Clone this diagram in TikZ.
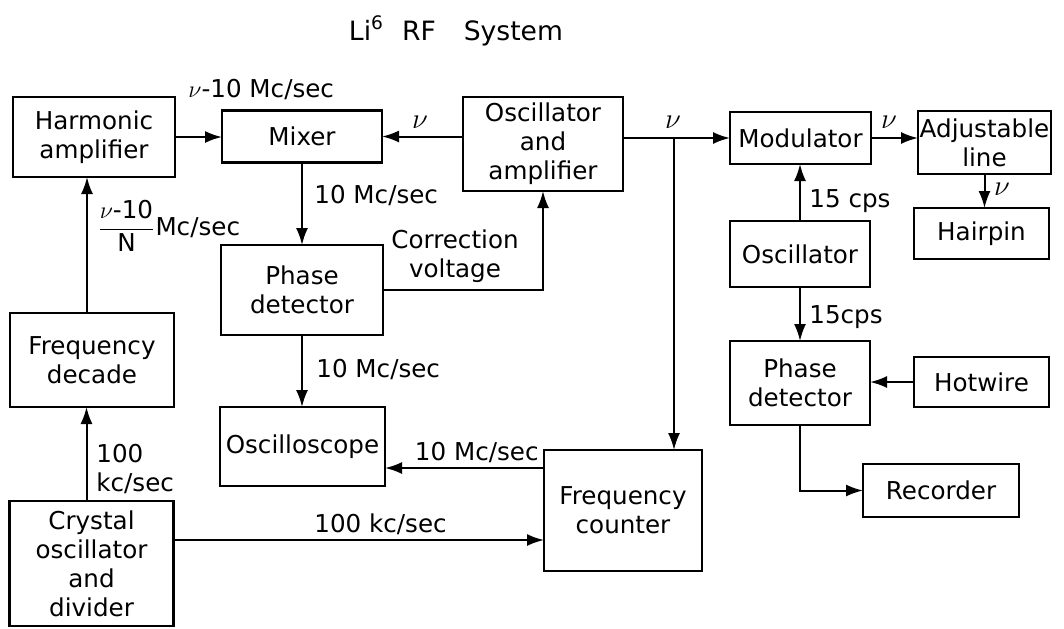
\documentclass[tikz,border=0pt]{standalone}
\usepackage{amsmath}
\usepackage{fontspec}
\setmainfont{DejaVu Sans}
\usetikzlibrary{arrows.meta,positioning,calc}

\begin{document}
\begin{tikzpicture}[x=0.5pt,y=-0.5pt,
    font=\fontsize{12.3}{14.5}\selectfont,
    >={Latex[length=8.5pt,width=6pt]},
    blk/.style={rectangle,draw,line width=1.3pt,align=center,inner xsep=0.5pt,inner ysep=1pt,outer sep=0pt},
    lbl/.style={inner sep=0pt},
    nu/.style={inner sep=0pt,font=\fontsize{14}{14}\selectfont},
    link/.style={->,line width=1pt}]
    \useasboundingbox (0,0) rectangle (1064,628);

    % Title
    \node[lbl,anchor=base,font=\fontsize{13.3}{15}\selectfont] (title) at (456,40) {Li\textsuperscript{6}\hspace{9pt}RF\hspace{14pt}System};

    % Reference chain
    \node[blk,minimum width=81pt,minimum height=40pt] (harm) at (94,137) {Harmonic\\amplifier};
    \node[blk,minimum width=82pt,minimum height=47pt] (decade) at (92,360) {Frequency\\decade};
    \node[blk,minimum width=82pt,minimum height=62.5pt] (crys) at (91.5,563.5) {Crystal\\oscillator\\and\\divider};

    % Mixer and detection
    \node[blk,minimum width=80pt,minimum height=26pt] (mixer) at (302,136.5) {Mixer};
    \node[blk,minimum width=81pt,minimum height=45pt] (phdet1) at (302,290) {Phase\\detector};
    \node[blk,minimum width=82.5pt,minimum height=39.5pt] (scope) at (302.5,446.5) {Oscilloscope};
    \node[blk,minimum width=80pt,minimum height=47pt] (oscamp) at (543,144) {Oscillator\\and\\amplifier};
    \node[blk,minimum width=79pt,minimum height=60.5pt] (counter) at (623,510.5) {Frequency\\counter};

    % Modulation side
    \node[blk,minimum width=70.5pt,minimum height=26pt] (modul) at (800.5,138) {Modulator};
    \node[blk,minimum width=66.5pt,minimum height=31.5pt] (adj) at (984.5,142.5) {Adjustable\\line};
    \node[blk,minimum width=67.5pt,minimum height=25.5pt] (hairpin) at (981.5,233.5) {Hairpin};
    \node[blk,minimum width=70pt,minimum height=33pt] (osc) at (800,254) {Oscillator};
    \node[blk,minimum width=70pt,minimum height=42pt] (phdet2) at (800,383) {Phase\\detector};
    \node[blk,minimum width=67.5pt,minimum height=25pt] (hot) at (981.5,382) {Hotwire};
    \node[blk,minimum width=78pt,minimum height=26.5pt] (rec) at (941,490.5) {Recorder};

    % Arrows
    \draw[link] (harm.east) -- (harm.east -| mixer.west);
    \draw[link] (mixer.east -| oscamp.west) -- (mixer.east);
    \draw[link] (mixer.south) -- (mixer.south |- phdet1.north);
    \draw[link] (phdet1.south) -- (phdet1.south |- scope.north);
    \draw[link] (phdet1.east) -| (oscamp.south);
    \draw[link] ([xshift=-2.5pt]crys.north) -- ([xshift=-2.5pt]crys.north |- decade.south);
    \draw[link] ([xshift=-2.5pt]decade.north) -- ([xshift=-2.5pt]decade.north |- harm.south);
    \draw[link] ([yshift=-19.5pt]crys.north east) -- ([yshift=-19.5pt]crys.north east -| counter.west);
    \draw[link] ([yshift=-9pt]counter.north west) -- ([yshift=-9pt]counter.north west -| scope.east);
    \draw[link] (oscamp.east |- modul.west) -- (modul.west);
    \coordinate (tap) at (674,138);
    \draw[link] (tap) -- (tap |- counter.north);
    \draw[link] (modul.east) -- (modul.east -| adj.west);
    \draw[link] (adj.south) -- (adj.south |- hairpin.north);
    \draw[link] (osc.north) -- (osc.north |- modul.south);
    \draw[link] (osc.south) -- (osc.south |- phdet2.north);
    \draw[link] (hot.west) -- (hot.west -| phdet2.east);
    \draw[link] (phdet2.south) |- (rec.west);

    % Signal labels
    \node[lbl,anchor=base west] (lmix) at (188,97) {$\nu$-10 Mc/sec};
    \node[nu,anchor=base] (lnu1) at (420,128) {$\nu$};
    \node[lbl,anchor=base west] (lten1) at (314,203) {10 Mc/sec};
    \node[lbl,anchor=base west] (lfrac) at (97,235) {$\dfrac{\nu\text{-10}}{\text{N}}$Mc/sec};
    \node[lbl,align=center] (lcorr) at (455,256) {Correction\\voltage};
    \node[lbl,anchor=base west] (lten2) at (316,377) {10 Mc/sec};
    \node[lbl,anchor=base east] (lten3) at (539,460) {10 Mc/sec};
    \node[lbl,anchor=base west] (lkc1) at (314,532) {100 kc/sec};
    \node[lbl,align=left,anchor=west] (lkc2) at (96,469) {100\\kc/sec};
    \node[nu,anchor=base] (lnu2) at (673,128) {$\nu$};
    \node[nu,anchor=base] (lnu3) at (889,128) {$\nu$};
    \node[nu,anchor=base] (lnu4) at (1002,195) {$\nu$};
    \node[lbl,anchor=base west] (lcps1) at (809,207) {15 cps};
    \node[lbl,anchor=base west] (lcps2) at (809,323) {15cps};
\end{tikzpicture}
\end{document}
